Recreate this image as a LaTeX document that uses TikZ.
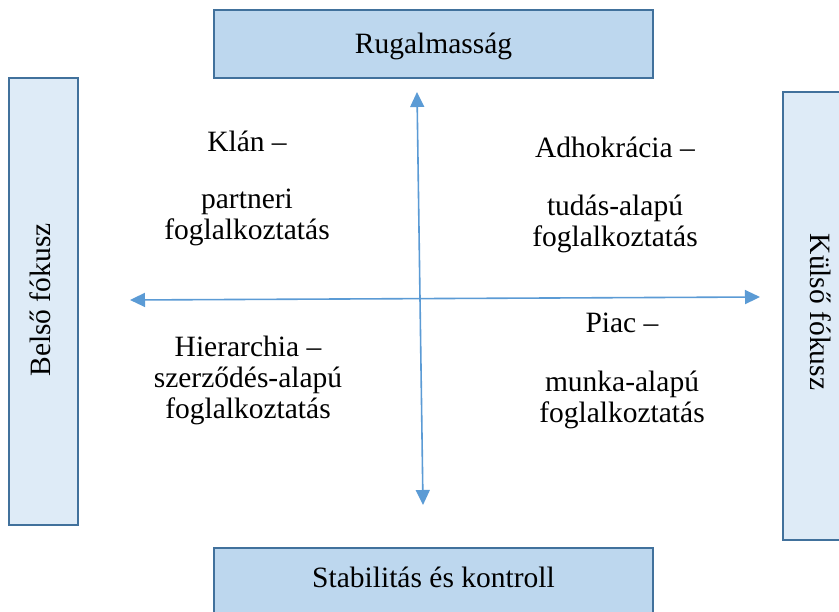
\documentclass[tikz,border=0pt]{standalone}
\usepackage{fontspec}
\setmainfont{Liberation Serif}
\usetikzlibrary{arrows.meta}
\definecolor{boxdark}{HTML}{BDD7EE}
\definecolor{boxlight}{HTML}{DEEBF7}
\definecolor{boxborder}{HTML}{41719C}
\definecolor{arrowblue}{HTML}{5B9BD5}
\tikzset{
  mainbox/.style={draw=boxborder, line width=2pt, fill=boxdark, rectangle, inner sep=0pt},
  sidebox/.style={draw=boxborder, line width=2pt, fill=boxlight, rectangle, inner sep=0pt},
  txt/.style={font=\fontsize{29.5}{34}\selectfont, anchor=base, inner sep=0pt},
  axis/.style={draw=arrowblue, line width=1.6pt,
    {Triangle[length=15pt,width=14pt]}-{Triangle[length=15pt,width=14pt]}}
}
\begin{document}
\begin{tikzpicture}[x=1pt,y=-1pt]
\useasboundingbox (0,0) rectangle (839,612);
\clip (0,0) rectangle (839,612);
\fill[white] (0,0) rectangle (839,612);
% boxes
\node[mainbox, minimum width=439pt, minimum height=68pt] (top) at (433.5,44) {};
\node[mainbox, minimum width=439pt, minimum height=80pt] (bottom) at (433.5,588) {};
\node[sidebox, minimum width=69pt, minimum height=447pt] (left) at (43.5,301.5) {};
\node[sidebox, minimum width=80pt, minimum height=448pt] (right) at (823,316) {};
% box texts
\node[txt] (toptxt) at (433.5,54) {Rugalmasság};
\node[txt] (bottxt) at (433.5,587) {Stabilitás és kontroll};
\node[txt, rotate=90] (lefttxt) at (50,300) {Belső fókusz};
\node[txt, rotate=-90] (righttxt) at (810,312) {Külső fókusz};
% axes
\coordinate (vtop) at (417,92);
\coordinate (vbot) at (423,505);
\coordinate (hleft) at (130,300);
\coordinate (hright) at (760,297);
\draw[axis] (vtop) -- (vbot);
\draw[axis] (hleft) -- (hright);
% quadrant texts
\node[txt] (k1) at (247,152) {Klán –};
\node[txt] (k2) at (247,209) {partneri};
\node[txt] (k3) at (247,240) {foglalkoztatás};
\node[txt] (a1) at (615,158) {Adhokrácia –};
\node[txt] (a2) at (615,216) {tudás-alapú};
\node[txt] (a3) at (615,247) {foglalkoztatás};
\node[txt] (h1) at (248,357) {Hierarchia –};
\node[txt] (h2) at (248,388) {szerződés-alapú};
\node[txt] (h3) at (248,419) {foglalkoztatás};
\node[txt] (p1) at (622,333) {Piac –};
\node[txt] (p2) at (622,392) {munka-alapú};
\node[txt] (p3) at (622,423) {foglalkoztatás};
\end{tikzpicture}
\end{document}
